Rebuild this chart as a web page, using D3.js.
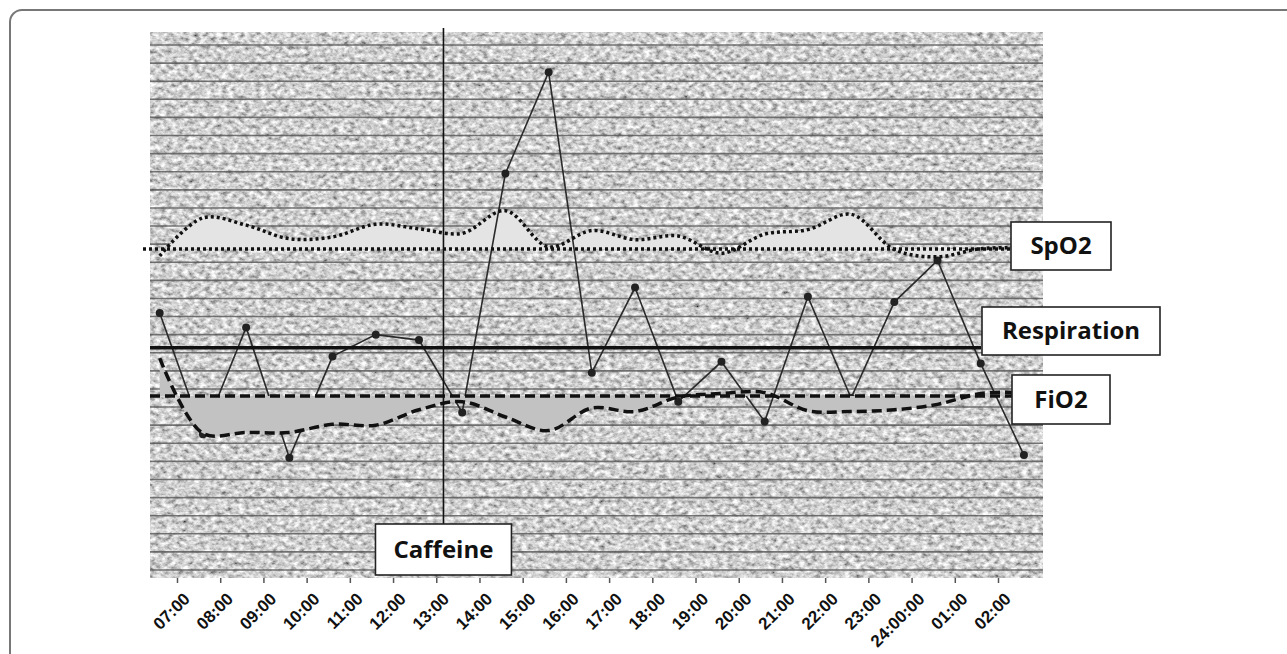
<!DOCTYPE html>
<html>
<head>
<meta charset="utf-8">
<script src="https://cdn.jsdelivr.net/npm/d3@7"></script>
<style>
  html, body { margin: 0; padding: 0; background: #fff; }
  .tick-label { font-family: "Liberation Sans", Arial, sans-serif; font-weight: bold; font-size: 17px; fill: #111; }
  .box-label { font-family: "Open Sans", sans-serif; font-weight: 700; font-size: 24px; fill: #111; }
</style>
</head>
<body>
<div id="chart"></div>
<script>
// tick labels along the bottom
var tickLabels = ["07:00", "08:00", "09:00", "10:00", "11:00", "12:00", "13:00", "14:00", "15:00", "16:00",
    "17:00", "18:00", "19:00", "20:00", "21:00", "22:00", "23:00", "24:00:00", "01:00", "02:00"];

// sample times of the readings
var sampleTimes = ["06:36", "07:36", "08:36", "09:36", "10:36", "11:36", "12:36", "13:36", "14:36", "15:36",
    "16:36", "17:36", "18:36", "19:36", "20:36", "21:36", "22:36", "23:36", "00:36", "01:36", "02:36"];

// values in chart units (one unit = one grid row)
var respiration = [14.2, 7.5, 13.4, 6.2, 11.8, 13.0, 12.7, 8.7, 21.9, 27.5, 10.9,
    15.6, 9.3, 11.5, 8.2, 15.1, 9.5, 14.8, 17.1, 11.4, 6.35];
var spo2 = [17.35, 19.45, 19.05, 18.3, 18.4, 19.1, 18.85, 18.6, 19.85, 17.85, 18.75,
    18.25, 18.45, 17.5, 18.55, 18.8, 19.65, 17.7, 17.3, 17.75, 17.8];
var fio2 = [11.7, 7.55, 7.6, 7.6, 8.05, 8.0, 8.85, 9.3, 8.45, 7.7, 8.95,
    8.75, 9.55, 9.75, 9.8, 8.8, 8.75, 8.85, 9.15, 9.75, 9.8];

// reference levels
var spo2Ref = 17.73;
var respRef = 12.27;
var fio2Ref = 9.61;

var caffeineTime = "13:10";

var width = 1287;
var height = 654;

var plotLeft = 150, plotRight = 1043, plotTop = 32, plotBottom = 578;

function hourOffset(t) {
    var p = t.split(":");
    var h = +p[0] + (+p[1]) / 60 - 7;
    if (h < -1) h += 24;
    return h;
}

var svg = d3.select("#chart")
    .append("svg")
    .attr("width", width)
    .attr("height", height);

var defs = svg.append("defs");
var grain = defs.append("filter")
    .attr("id", "grain")
    .attr("x", 0).attr("y", 0).attr("width", 1).attr("height", 1);
grain.append("feTurbulence")
    .attr("type", "fractalNoise")
    .attr("baseFrequency", "0.18 0.24")
    .attr("numOctaves", 3)
    .attr("seed", 7)
    .attr("result", "noise");
grain.append("feColorMatrix")
    .attr("in", "noise")
    .attr("type", "matrix")
    .attr("values", "1.3 0 0 0 -0.02  1.3 0 0 0 -0.02  1.3 0 0 0 -0.02  0 0 0 0 1");

// frame
svg.append("rect")
    .attr("x", 10).attr("y", 10)
    .attr("width", 1320).attr("height", 700)
    .attr("rx", 12)
    .attr("fill", "none")
    .attr("stroke", "#777")
    .attr("stroke-width", 2);

var xScale = d3.scaleLinear()
    .domain([0, 19])
    .range([177, 998]);

var yScale = d3.scaleLinear()
    .domain([0, 29])
    .range([570, 45]);

// textured background
svg.append("rect")
    .attr("x", plotLeft).attr("y", plotTop)
    .attr("width", plotRight - plotLeft).attr("height", plotBottom - plotTop)
    .attr("fill", "#aaa")
    .attr("filter", "url(#grain)");

// horizontal grid rows
svg.append("g")
    .selectAll("line")
    .data(d3.range(0, 30))
    .enter()
    .append("line")
    .attr("x1", plotLeft).attr("x2", plotRight)
    .attr("y1", function(d) { return yScale(d); })
    .attr("y2", function(d) { return yScale(d); })
    .attr("stroke", "#555")
    .attr("stroke-opacity", 0.8)
    .attr("stroke-width", 1.6);

// x axis ticks
var xAxis = d3.axisBottom(xScale)
    .tickValues(d3.range(tickLabels.length))
    .tickSize(5)
    .tickFormat("");
var axisG = svg.append("g")
    .attr("transform", `translate(0, ${plotBottom})`)
    .call(xAxis);
axisG.select(".domain").remove();
axisG.selectAll(".tick line").attr("stroke", "#555").attr("stroke-width", 1.5);

svg.append("g")
    .selectAll("text")
    .data(tickLabels)
    .enter()
    .append("text")
    .attr("class", "tick-label")
    .attr("text-anchor", "end")
    .attr("transform", function(d, i) {
        return `translate(${xScale(i) + 14}, ${plotBottom + 22}) rotate(-45)`;
    })
    .text(function(d) { return d; });

var rows = sampleTimes.map(function(t, i) {
    return { t: hourOffset(t), resp: respiration[i], spo2: spo2[i], fio2: fio2[i] };
});

var smooth = d3.curveCatmullRom.alpha(0.5);

// SpO2 fill
svg.append("path")
    .datum(rows)
    .attr("fill", "#e4e4e4")
    .attr("d", d3.area()
        .curve(smooth)
        .x(function(d) { return xScale(d.t); })
        .y0(yScale(spo2Ref))
        .y1(function(d) { return yScale(d.spo2); }));

// respiration readings
svg.append("path")
    .datum(rows)
    .attr("fill", "none")
    .attr("stroke", "#2a2a2a")
    .attr("stroke-width", 1.6)
    .attr("d", d3.line()
        .x(function(d) { return xScale(d.t); })
        .y(function(d) { return yScale(d.resp); }));

svg.append("g")
    .selectAll("circle")
    .data(rows)
    .enter()
    .append("circle")
    .attr("cx", function(d) { return xScale(d.t); })
    .attr("cy", function(d) { return yScale(d.resp); })
    .attr("r", 4)
    .attr("fill", "#222");

// FiO2 fill
svg.append("path")
    .datum(rows)
    .attr("fill", "#c2c2c2")
    .attr("d", d3.area()
        .curve(smooth)
        .x(function(d) { return xScale(d.t); })
        .y0(yScale(fio2Ref))
        .y1(function(d) { return yScale(d.fio2); }));

// reference lines
svg.append("line")
    .attr("x1", 143).attr("x2", 1010)
    .attr("y1", yScale(spo2Ref)).attr("y2", yScale(spo2Ref))
    .attr("stroke", "#111").attr("stroke-width", 3.5)
    .attr("stroke-dasharray", "3,3");

svg.append("line")
    .attr("x1", plotLeft).attr("x2", 981)
    .attr("y1", yScale(respRef)).attr("y2", yScale(respRef))
    .attr("stroke", "#111").attr("stroke-width", 3.5);

svg.append("line")
    .attr("x1", plotLeft).attr("x2", 1012)
    .attr("y1", yScale(fio2Ref)).attr("y2", yScale(fio2Ref))
    .attr("stroke", "#111").attr("stroke-width", 3.5)
    .attr("stroke-dasharray", "10,5");

// smoothed curves
svg.append("path")
    .datum(rows)
    .attr("fill", "none")
    .attr("stroke", "#111")
    .attr("stroke-width", 3.5)
    .attr("stroke-dasharray", "3,3")
    .attr("d", d3.line()
        .curve(smooth)
        .x(function(d) { return xScale(d.t); })
        .y(function(d) { return yScale(d.spo2); }));

svg.append("path")
    .datum(rows)
    .attr("fill", "none")
    .attr("stroke", "#111")
    .attr("stroke-width", 3.5)
    .attr("stroke-dasharray", "10,5")
    .attr("d", d3.line()
        .curve(smooth)
        .x(function(d) { return xScale(d.t); })
        .y(function(d) { return yScale(d.fio2); }));

// caffeine marker
var cx = xScale(hourOffset(caffeineTime));
svg.append("line")
    .attr("x1", cx).attr("x2", cx)
    .attr("y1", 28).attr("y2", 524)
    .attr("stroke", "#111")
    .attr("stroke-width", 1.6);

function labelBox(text, x, y, w, h) {
    var g = svg.append("g");
    g.append("rect")
        .attr("x", x).attr("y", y)
        .attr("width", w).attr("height", h)
        .attr("fill", "#fff")
        .attr("stroke", "#222")
        .attr("stroke-width", 1.6);
    g.append("text")
        .attr("class", "box-label")
        .attr("x", x + w / 2)
        .attr("y", y + h / 2 + 8)
        .attr("text-anchor", "middle")
        .text(text);
}

labelBox("Caffeine", cx - 68, 524, 136, 51);
labelBox("SpO2", 1011, 222, 100, 48);
labelBox("Respiration", 982, 307, 178, 48);
labelBox("FiO2", 1012, 375, 98, 49);
</script>
</body>
</html>
